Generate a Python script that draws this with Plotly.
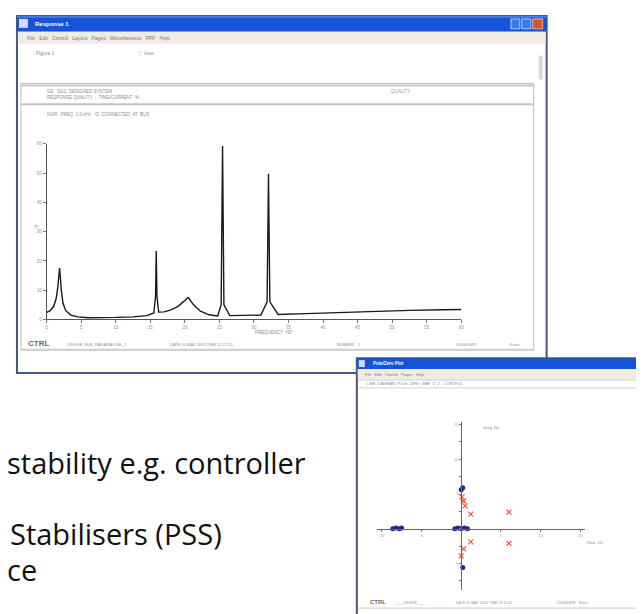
import plotly.graph_objects as go

W, H = 644, 614

# ---------------- data ----------------
# frequency response (spectrum) read from the main window
freq_hz = [0, 0.5, 1.0, 1.35, 1.6, 1.75, 1.85, 1.95, 2.1, 2.35, 2.75, 3.5, 4.5, 6.0, 8.0,
           10.0, 12.5, 14.5, 15.5, 15.75, 15.85, 15.95, 16.2, 17.0, 18.0, 19.0, 19.75,
           20.25, 20.45, 20.65, 21.25, 22.25, 23.5, 24.75, 25.25, 25.45, 25.65, 26.5,
           28.5, 31.0, 31.9, 32.1, 32.3, 33.5, 37.5, 42.5, 47.5, 52.5, 57.5, 60.0]
amplitude = [2.4, 3.0, 4.5, 7.0, 11.0, 15.0, 17.6, 15.0, 10.0, 5.5, 3.0, 1.5, 0.9, 0.6, 0.6,
             0.7, 0.9, 1.3, 2.2, 8.0, 23.4, 8.0, 2.5, 2.6, 3.3, 4.5, 6.0,
             7.2, 7.5, 7.0, 5.0, 2.8, 1.6, 1.2, 5.0, 59.3, 5.0, 1.3,
             1.3, 1.5, 6.0, 49.8, 6.0, 1.7, 2.0, 2.4, 2.8, 3.1, 3.3, 3.4]
spec_xticks = [0, 5, 10, 15, 20, 25, 30, 35, 40, 45, 50, 55, 60]
spec_yticks = [0, 10, 20, 30, 40, 50, 60]

# pole / zero map read from the small window
pole_real = [-8.6, -8.2, -7.8, -7.5, -0.8, -0.4, 0.0, 0.4, 0.8, 0.2, 0.0, 0.2]
pole_imag = [0.0, 0.1, 0.0, 0.1, 0.0, 0.1, 0.0, 0.1, 0.0, 5.9, 5.6, -5.6]
zero_real = [0.3, 0.5, 1.2, 6.0, 1.2, 6.0, 0.3, 0.0, 0.1]
zero_imag = [4.0, 3.3, 2.1, 2.4, -1.9, -2.1, -2.9, -3.9, 4.6]
pz_xticks = [-10, -5, 0, 5, 10, 15]
pz_xlabels = ["-10", "-5", "", "5", "10", "15"]
pz_yticks = [-7.5, -5, -2.5, 0, 2.5, 5, 7.5, 10, 12.5, 15]
pz_ylabels = ["", "-5", "", "", "", "5", "", "10", "", "15"]

menu_main = "File   Edit   Control   Layout   Pages   Miscellaneous   PPF   Help"
menu_small = "File   Edit   Control   Pages   Help"
slide_lines = ["stability e.g. controller", "Stabilisers (PSS)", "ce"]

# ---------------- figure ----------------
fig = go.Figure()

fig.add_trace(go.Scatter(x=freq_hz, y=amplitude, mode="lines",
                         line=dict(color="#1a1a1a", width=1.4),
                         xaxis="x2", yaxis="y2", showlegend=False, hoverinfo="skip"))
fig.add_trace(go.Scatter(x=zero_real, y=zero_imag, mode="markers",
                         marker=dict(symbol="x-thin-open", size=5, line=dict(color="#e06a6a", width=1.2)),
                         xaxis="x3", yaxis="y3", showlegend=False, hoverinfo="skip"))
fig.add_trace(go.Scatter(x=pole_real, y=pole_imag, mode="markers",
                         marker=dict(symbol="circle", size=5, color="#1c2a80"),
                         xaxis="x3", yaxis="y3", showlegend=False, hoverinfo="skip"))

shapes = []
ann = []


def rect(x0, y0, x1, y1, fill=None, line=None, lw=1):
    shapes.append(dict(type="rect", xref="x", yref="y", x0=x0, y0=y0, x1=x1, y1=y1,
                       fillcolor=fill if fill else "rgba(0,0,0,0)",
                       line=dict(color=line if line else "rgba(0,0,0,0)", width=lw if line else 0),
                       layer="below"))


def hline(x0, x1, y, color="#b5b5b5", lw=1):
    shapes.append(dict(type="line", xref="x", yref="y", x0=x0, x1=x1, y0=y, y1=y,
                       line=dict(color=color, width=lw), layer="below"))


def text(x, y, s, size=5, color="#8a8a8a", xanchor="left", family="Arial", bold=False):
    ann.append(dict(x=x, y=y, xref="x", yref="y", text=("<b>%s</b>" % s) if bold else s,
                    showarrow=False, xanchor=xanchor, yanchor="middle",
                    font=dict(size=size, color=color, family=family)))


# ---- main window ----
rect(8, 6, 541, 366, fill="white", line="#46577a", lw=2)
rect(8, 6, 541, 22, fill="#1554d6")
hline(8, 541, 7, color="#6d9cf0", lw=1)
rect(10, 9, 19, 18, fill="#cfe0fa")
text(24, 14, "Response 1", size=6, color="white", bold=True)
rect(505, 9, 514, 19, fill="#3d78e8", line="#cfe0fa", lw=0.8)
rect(516, 9, 525, 19, fill="#3d78e8", line="#cfe0fa", lw=0.8)
rect(527, 9, 537, 19, fill="#d9552e", line="#f0c8b8", lw=0.8)
rect(9, 22, 540, 34, fill="#efede2")
text(16, 28.5, menu_main, size=5, color="#7a7a7a")
text(25, 43, "Figure 1", size=5, color="#8a8a8a")
text(128, 43, "\u25bd View", size=5, color="#a0a0a0")
rect(533, 46, 537, 70, fill="#d8d8d8")
rect(12, 74, 528, 343, line="#bdbdbd", lw=1)
hline(12, 528, 76, color="#c4c4c4", lw=2)
hline(12, 528, 95, color="#c4c4c4", lw=2)
text(36, 82, "GE   SG1  DESIGNED SYSTEM", size=4.5, color="#8d8d8d")
text(36, 88.5, "RESPONSE QUALITY  :  TIME/CURRENT  %", size=4.5, color="#8d8d8d")
text(382, 82, "QUALITY", size=4.5, color="#9a9a9a")
text(36, 105, "NGR   FREQ  1.0 kHz   IS  CONNECTED  AT  BUS", size=4.5, color="#8d8d8d")
hline(12, 528, 342, color="#c8c8c8", lw=1)
text(17, 336, "CTRL", size=8, color="#6a6a6a", bold=True)
text(56, 337, "LIN EXE_BUS_PAS ANALYSE_1", size=4, color="#909090")
text(160, 337, "DATE 10 MAY 2005 TIME 13 12 45", size=4, color="#909090")
text(328, 337, "NUMBER   1", size=4, color="#909090")
text(448, 337, "DIGSILENT", size=4, color="#909090")
text(502, 337, "Funct", size=4, color="#909090")
text(266, 325, "FREQUENCY  HZ", size=4.5, color="#8a8a8a", xanchor="center")
ann.append(dict(x=27, y=218, xref="x", yref="y", text="V", showarrow=False, textangle=-90,
                font=dict(size=5, color="#8a8a8a", family="Arial")))

# ---- small window ----
rect(350, 351, 646, 611, fill="white", line="#46577a", lw=2)
rect(350, 351, 646, 362, fill="#1554d6")
rect(352, 353, 358, 360, fill="#cfe0fa")
text(364, 356.5, "Pole/Zero Plot", size=4.5, color="white", bold=True)
rect(637, 353, 646, 361, fill="#d9552e")
rect(351, 362, 645, 372, fill="#efede2")
text(356, 367, menu_small, size=4, color="#7a7a7a")
hline(351, 645, 373, color="#c8c8c8", lw=1)
text(358, 377, "LINE  DIAGRAM  POLE  ZERO  MAP  1 , 2 ,  CONTROL", size=3.8, color="#8a8a8a")
hline(351, 645, 381, color="#d0d0d0", lw=1)
text(475, 421, "Imag  Hz", size=4, color="#8a8a8a")
text(580, 537, "Real  1/s", size=4, color="#8a8a8a")
hline(351, 645, 603, color="#c8c8c8", lw=1)
text(361, 597, "CTRL", size=6, color="#6a6a6a", bold=True)
text(384, 598, "  ____LIN EXE____", size=3.6, color="#909090")
text(448, 598, "DATE 10 MAY 2005 TIME 13 12 45", size=3.6, color="#909090")
text(549, 598, "DIGSILENT   Funct", size=3.6, color="#909090")

# ---- slide text ----
yc = [456, 528, 564]
xs = [0, 0, 0]
xsh = [-4, -1, -4]
for s, y, x, sh in zip(slide_lines, yc, xs, xsh):
    ann.append(dict(x=x, y=y, xref="x", yref="y", text=s, showarrow=False,
                    xanchor="left", yanchor="middle", xshift=sh,
                    font=dict(size=29, color="#111111", family="Open Sans")))

small_tick = dict(size=4.5, color="#959595", family="Arial")

fig.update_layout(
    width=W, height=H, margin=dict(l=0, r=0, t=0, b=0),
    paper_bgcolor="white", plot_bgcolor="rgba(0,0,0,0)",
    showlegend=False, shapes=shapes, annotations=ann,
    xaxis=dict(range=[0, W], domain=[0, 1], visible=False, fixedrange=True),
    yaxis=dict(range=[H, 0], domain=[0, 1], visible=False, fixedrange=True),
    xaxis2=dict(domain=[38 / W, 455 / W], range=[0, 60], anchor="y2",
                showline=True, linecolor="#555", linewidth=1, ticks="outside",
                ticklen=3, tickcolor="#777", tickvals=spec_xticks, tickfont=small_tick,
                showgrid=False, zeroline=False, fixedrange=True),
    yaxis2=dict(domain=[1 - 312 / H, 1 - 135 / H], range=[0, 60], anchor="x2",
                showline=True, linecolor="#555", linewidth=1, ticks="outside",
                ticklen=3, tickcolor="#777", tickvals=spec_yticks, tickfont=small_tick,
                showgrid=False, zeroline=False, fixedrange=True),
    xaxis3=dict(domain=[370 / W, 580 / W], range=[-10.625, 15.625], anchor="free",
                position=1 - 523 / H, showline=True, linecolor="#666", linewidth=1,
                ticks="outside", ticklen=2, tickcolor="#777", tickvals=pz_xticks,
                ticktext=pz_xlabels, tickfont=dict(size=4, color="#959595", family="Arial"),
                showgrid=False, zeroline=False, fixedrange=True),
    yaxis3=dict(domain=[1 - 585 / H, 1 - 415 / H], range=[-8.857, 15.43], anchor="free",
                position=455 / W, showline=True, linecolor="#666", linewidth=1,
                ticks="outside", ticklen=2, tickcolor="#777", tickvals=pz_yticks,
                ticktext=pz_ylabels, tickfont=dict(size=4, color="#959595", family="Arial"),
                showgrid=False, zeroline=False, fixedrange=True),
)

fig.write_html("out.html")
